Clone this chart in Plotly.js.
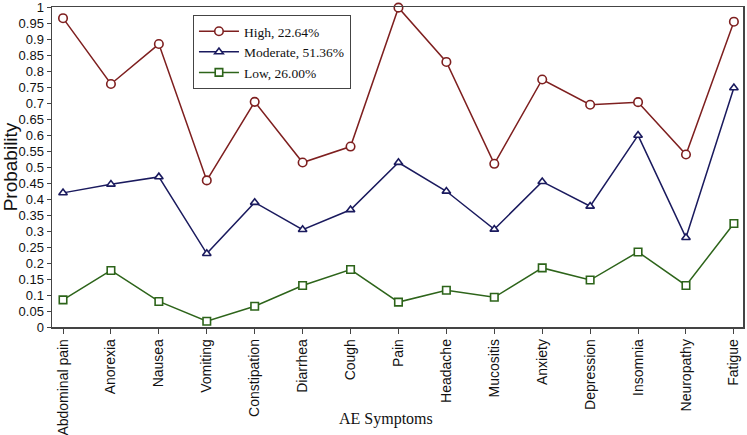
<!DOCTYPE html>
<html><head><meta charset="utf-8">
<script src="https://cdn.plot.ly/plotly-3.0.1.min.js"></script>
<style>html,body{margin:0;padding:0;background:#fff}#chart{width:747px;height:435px}</style>
</head><body><div id="chart"></div>
<script>
const categories = ["Abdominal pain","Anorexia","Nausea","Vomiting","Constipation","Diarrhea","Cough","Pain","Headache","Mucositis","Anxiety","Depression","Insomnia","Neuropathy","Fatigue"];
const highValues = [0.967,0.761,0.886,0.459,0.705,0.515,0.565,1.0,0.83,0.511,0.775,0.696,0.704,0.54,0.956];
const moderateValues = [0.42,0.447,0.47,0.23,0.39,0.305,0.367,0.515,0.425,0.306,0.455,0.378,0.6,0.28,0.749];
const lowValues = [0.085,0.177,0.08,0.018,0.065,0.13,0.18,0.078,0.115,0.093,0.185,0.147,0.235,0.13,0.324];
const seriesNames = ["High, 22.64%","Moderate, 51.36%","Low, 26.00%"];
const yTickVals = [0,0.05,0.1,0.15,0.2,0.25,0.3,0.35,0.4,0.45,0.5,0.55,0.6,0.65,0.7,0.75,0.8,0.85,0.9,0.95,1];
const yTickText = ["0","0.05","0.1","0.15","0.2","0.25","0.3","0.35","0.4","0.45","0.5","0.55","0.6","0.65","0.7","0.75","0.8","0.85","0.9","0.95","1"];

const idx = categories.map((c,i)=>i);
function tr(vals, name, color, symbol, size){
  return {x: idx, y: vals, name: name, type:'scatter', mode:'lines+markers', cliponaxis:false,
    line:{color:color, width:1.5},
    marker:{symbol:symbol, size:size, color:'#ffffff', line:{color:color, width:1.6}}};
}
const data = [
  tr(highValues, seriesNames[0], '#7e1f1f', 'circle', 8.5),
  tr(moderateValues, seriesNames[1], '#1a1a5e', 'triangle-up', 7.5),
  tr(lowValues, seriesNames[2], '#2d641a', 'square', 7.5)
];
const layout = {
  width:747, height:435,
  margin:{l:52, r:4, t:7, b:108},
  paper_bgcolor:'#fff', plot_bgcolor:'#fff',
  showlegend:true,
  legend:{x:0.204, y:0.975, xanchor:'left', yanchor:'top', bgcolor:'#fff',
    bordercolor:'#444', borderwidth:1, font:{family:'Liberation Serif', size:13.5, color:'#111'},
    tracegroupgap:0, itemwidth:40},
  xaxis:{range:[-0.23,14.19], tickmode:'array', tickvals:idx, ticktext:categories,
    tickangle:-90, ticks:'outside', ticklen:5, tickcolor:'#444',
    showline:true, linecolor:'#444', linewidth:1.5, mirror:true, showgrid:false, zeroline:false,
    tickfont:{family:'Liberation Sans, Arial', size:14, color:'#111'}},
  yaxis:{range:[0,1.002], tickmode:'array', tickvals:yTickVals, ticktext:yTickText,
    ticks:'outside', ticklen:4, tickcolor:'#444', ticklabeloverflow:'allow',
    showline:true, linecolor:'#444', linewidth:1.5, mirror:true, showgrid:false, zeroline:false,
    tickfont:{family:'Liberation Sans, Arial', size:13, color:'#111'},
    title:{text:'Probability', font:{family:'Liberation Sans, Arial', size:19, color:'#111'}, standoff:1}},
  annotations:[{text:'AE Symptoms', xref:'paper', yref:'paper', x:0.484, y:-0.288,
    xanchor:'center', yanchor:'middle', showarrow:false,
    font:{family:'Liberation Serif', size:16, color:'#111'}}]
};
Plotly.newPlot('chart', data, layout, {displayModeBar:false, staticPlot:true});
</script></body></html>
